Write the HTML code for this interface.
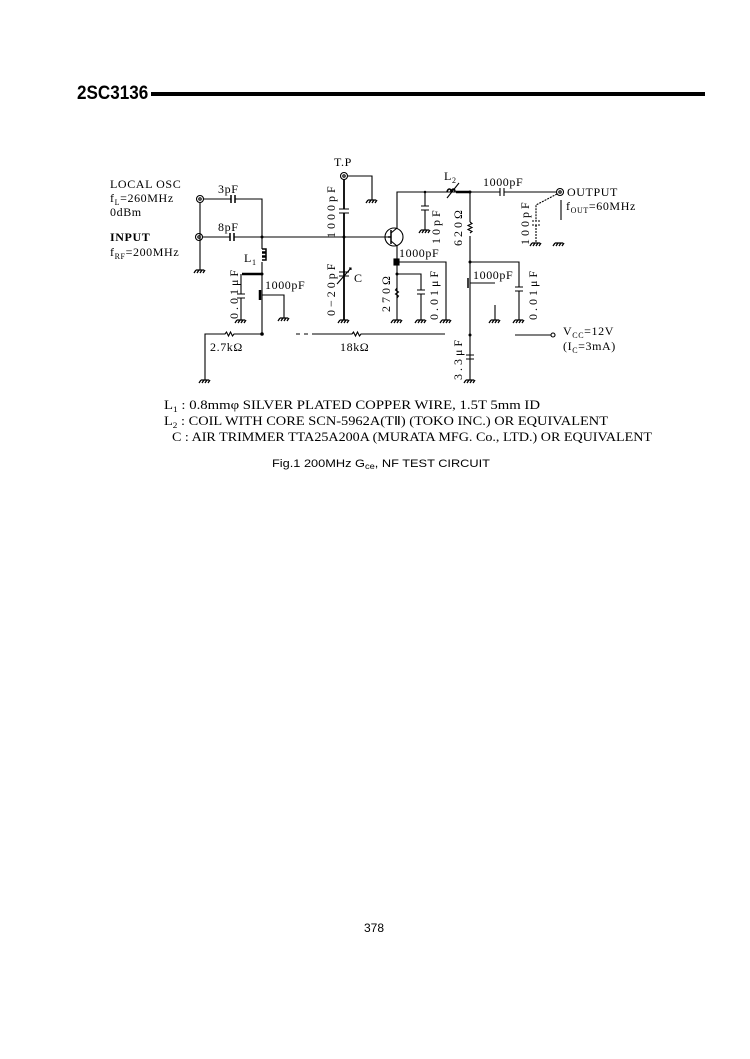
<!DOCTYPE html>
<html><head><meta charset="utf-8"><style>
html,body{margin:0;padding:0;background:#fff;}
svg{display:block}
text{font-family:"Liberation Serif",serif;fill:#000}
.s{font-family:"Liberation Sans",sans-serif}
</style></head><body>
<svg width="750" height="1059" viewBox="0 0 750 1059" xmlns="http://www.w3.org/2000/svg">
<defs>
<g id="gnd"><path d="M-4 0h8 M-4 0l-2 3 M-1 0l-2 3 M2 0l-2 3 M5 0l-2 3" stroke="#000" stroke-width="1.3" fill="none"/></g>
</defs>
<text x="77" y="99" class="s" font-size="19" font-weight="bold" transform="scale(0.9,1) translate(8.5,0)">2SC3136</text>
<rect x="151" y="92" width="554" height="4" fill="#000"/>

<g stroke="#000" stroke-width="1.1" fill="none">
<circle cx="200" cy="199" r="3.5"/><circle cx="200" cy="199" r="1.2"/>
<circle cx="199" cy="237" r="3.5"/><circle cx="199" cy="237" r="1.2"/>
<path d="M200 202V270"/>
<path d="M203 199H231M235 199H262V237"/>
<path d="M231 195v8M235 195v8" stroke-width="1.5"/>
<path d="M203 237H230M234 237H388"/>
<path d="M230 233v8M234 233v8" stroke-width="1.5"/>
<path d="M262 237V249M262 262V334"/>
<path d="M262 249h4v3h-4 M262 253h4v3h-4 M262 257h4v3h-4" stroke-width="1.5"/>
<path d="M242 274H262" stroke-width="2.5"/>
<path d="M241 274V294M241 298V320M237 294h8M237 298h8"/>
<path d="M262 295H284V318"/>
<path d="M260 290v10" stroke-width="2.5"/>
<path d="M205 380V334H225l1.5-2 2 4 2-4 2 4 1.5-2H262"/>
<path d="M296 334h4M304 334h4M312 334h40l1.5-2 2 4 2-4 2 4 1.5-2H445"/>
<circle cx="344" cy="176" r="3.5"/><circle cx="344" cy="176" r="1.2"/>
<path d="M347 176H372V200"/>
<path d="M344 179V209M344 213V320" stroke-width="1.8"/>
<path d="M339 209h10M339 213h10"/>
<path d="M339 272h10M339 276h10"/>
<path d="M337 284l14 -16M349 268l2 0l0 2"/>
<circle cx="394" cy="237" r="9"/>
<path d="M388 237H391M391 230V244" stroke-width="1.5"/>
<path d="M391 233L397 228V192H470M391 241L397 246V262" />
<path d="M397 262H446V320"/>
<rect x="394" y="259" width="5" height="6" fill="#000"/>
<path d="M397 262V320"/>
<path d="M397 274H421V290M421 294V320M417 290h8M417 294h8"/>
<path d="M397 288l-1.5 2 3 2-3 2 3 2-1.5 2" />
<path d="M425 192V206M425 210V230M421 206h8M421 210h8"/>
<path d="M447 192c1-4 4-4 4 0c1-4 4-4 4 0" stroke-width="1.6"/>
<path d="M447 198L459 183"/>
<path d="M456 192H470" stroke-width="2.5"/>
<path d="M470 192H500M504 192H557"/>
<path d="M500 188v8M504 188v8"/>
<circle cx="560" cy="192" r="3.5"/><circle cx="560" cy="192" r="1.2"/>
<path d="M557 194L536 205V221M536 225V243M532 221h8M532 225h8" stroke-dasharray="2 1"/>
<path d="M561 200V220"/>
<path d="M470 192V222M470 236V380"/>
<path d="M470 222l2 1.5-4 2 4 2-4 2 4 2-2 1.5"/>
<path d="M470 262H519V287M519 291V320M515 287h8M515 291h8"/>
<path d="M470 283H495M495 305V320"/>
<path d="M468 278v10" stroke-width="1.5"/>
<path d="M466 355h8M466 359h8"/>
<path d="M515 335H551"/>
<circle cx="553" cy="335" r="2"/>
</g>
<g fill="#000">
<circle cx="262" cy="237" r="1.5"/><circle cx="262" cy="274" r="1.5"/><circle cx="262" cy="334" r="1.8"/>
<circle cx="344" cy="237" r="1.5"/><circle cx="470" cy="192" r="1.5"/><circle cx="470" cy="262" r="1.5"/>
<circle cx="470" cy="335" r="1.5"/><circle cx="397" cy="274" r="1.5"/><circle cx="425" cy="192" r="1.3"/>
</g>
<g>
<use href="#gnd" x="200" y="270"/><use href="#gnd" x="241" y="320"/><use href="#gnd" x="284" y="318"/>
<use href="#gnd" x="205" y="380"/><use href="#gnd" x="372" y="200"/><use href="#gnd" x="344" y="320"/>
<use href="#gnd" x="397" y="320"/><use href="#gnd" x="421" y="320"/><use href="#gnd" x="446" y="320"/>
<use href="#gnd" x="425" y="230"/><use href="#gnd" x="536" y="243"/><use href="#gnd" x="559" y="243"/>
<use href="#gnd" x="495" y="320"/><use href="#gnd" x="519" y="320"/><use href="#gnd" x="470" y="380"/>
</g>

<g font-size="12" letter-spacing="0.6">
<text x="110" y="188">LOCAL OSC</text>
<text x="110" y="202">f<tspan font-size="8" dy="3">L</tspan><tspan dy="-3">=260MHz</tspan></text>
<text x="110" y="216">0dBm</text>
<text x="110" y="241" font-weight="bold">INPUT</text>
<text x="110" y="256">f<tspan font-size="8" dy="3">RF</tspan><tspan dy="-3">=200MHz</tspan></text>
<text x="218" y="193">3pF</text>
<text x="218" y="231">8pF</text>
<text x="244" y="262">L<tspan font-size="8" dy="3">1</tspan></text>
<text x="265" y="289">1000pF</text>
<text x="210" y="351">2.7kΩ</text>
<text x="340" y="351">18kΩ</text>
<text x="334" y="166">T.P</text>
<text x="354" y="282">C</text>
<text x="399" y="257">1000pF</text>
<text x="444" y="180">L<tspan font-size="8" dy="3">2</tspan></text>
<text x="483" y="186">1000pF</text>
<text x="473" y="279">1000pF</text>
<text x="567" y="196">OUTPUT</text>
<text x="566" y="210">f<tspan font-size="8" dy="3">OUT</tspan><tspan dy="-3">=60MHz</tspan></text>
<text x="563" y="335">V<tspan font-size="8" dy="3">CC</tspan><tspan dy="-3">=12V</tspan></text>
<text x="563" y="350">(I<tspan font-size="8" dy="3">C</tspan><tspan dy="-3">=3mA)</tspan></text>
</g>
<g font-size="12" letter-spacing="3">
<text transform="translate(335,238) rotate(-90)">1000pF</text>
<text transform="translate(335,316) rotate(-90)">0−20pF</text>
<text transform="translate(238,319) rotate(-90)">0.01μF</text>
<text transform="translate(390,312) rotate(-90)">270Ω</text>
<text transform="translate(438,320) rotate(-90)">0.01μF</text>
<text transform="translate(440,244) rotate(-90)">10pF</text>
<text transform="translate(462,246) rotate(-90)">620Ω</text>
<text transform="translate(529,245) rotate(-90)">100pF</text>
<text transform="translate(537,320) rotate(-90)">0.01μF</text>
<text transform="translate(462,380) rotate(-90)">3.3μF</text>
</g>

<g font-size="12.5">
<text x="164" y="409" textLength="376" lengthAdjust="spacingAndGlyphs">L<tspan font-size="8" dy="3">1</tspan><tspan dy="-3"> : 0.8mmφ SILVER PLATED COPPER WIRE, 1.5T 5mm ID</tspan></text>
<text x="164" y="425" textLength="444" lengthAdjust="spacingAndGlyphs">L<tspan font-size="8" dy="3">2</tspan><tspan dy="-3"> : COIL WITH CORE SCN-5962A(TⅡ) (TOKO INC.) OR EQUIVALENT</tspan></text>
<text x="172" y="441" textLength="480" lengthAdjust="spacingAndGlyphs">C : AIR TRIMMER TTA25A200A (MURATA MFG. Co., LTD.) OR EQUIVALENT</text>
</g>
<text x="272" y="467" class="s" font-size="11" textLength="218" lengthAdjust="spacingAndGlyphs">Fig.1  200MHz G<tspan font-size="8" dy="2">ce</tspan><tspan dy="-2">, NF TEST CIRCUIT</tspan></text>
<text x="364" y="932" class="s" font-size="12">378</text>
</svg>
</body></html>
